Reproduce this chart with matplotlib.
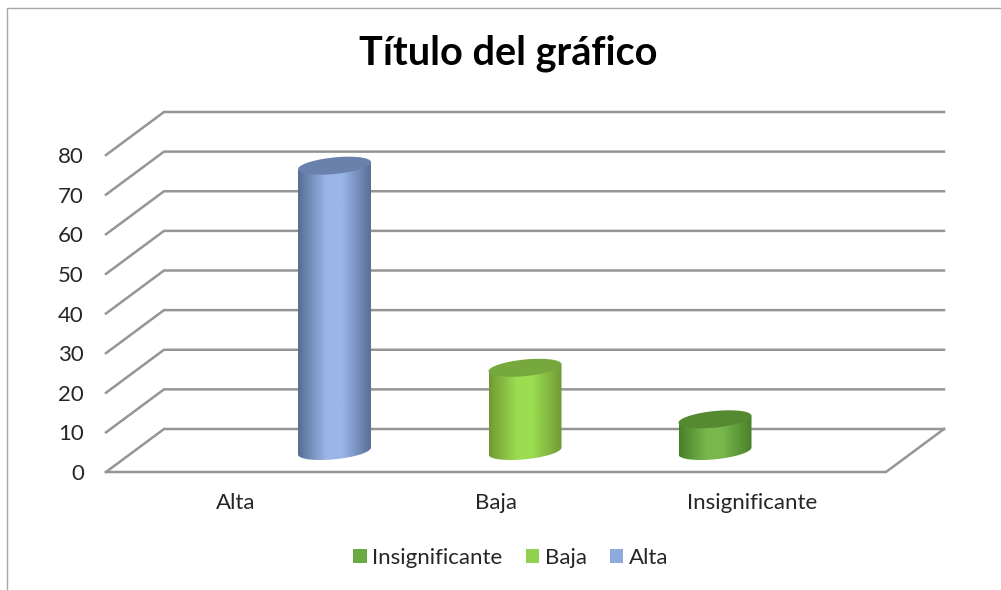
#!/usr/bin/env python3
"""Excel style 3D cylinder chart drawn on a flat matplotlib axes."""
import numpy as np
import matplotlib
matplotlib.use("Agg")
import matplotlib.pyplot as plt
from matplotlib.colors import LinearSegmentedColormap
from matplotlib.lines import Line2D
from matplotlib.patches import Patch, Polygon

categories = ["Alta", "Baja", "Insignificante"]
values = [72, 21, 8]
y_ticks = [0, 10, 20, 30, 40, 50, 60, 70, 80]
legend_labels = ["Insignificante", "Baja", "Alta"]

W, H = 1001, 590
plt.rcParams["font.family"] = ["Lato", "DejaVu Sans"]
TEXT = "#262626"
GRID = "#959595"

# colours per category: edge of body, middle of body, top cap
body_dark = ["#566d95", "#6f9a35", "#4a7f2a"]
body_light = ["#9ab5e8", "#9cdc50", "#78b84c"]
cap_col = ["#6a82ab", "#76a83e", "#558a30"]
legend_col = ["#6aaa42", "#92d050", "#8eaadb"]

fig = plt.figure(figsize=(W / 100, H / 100), dpi=100)
# front plane: x 106..886 px, value 0 at y 472 px, 80 at y 155 px
ax = fig.add_axes([106 / W, 1 - 472 / H, 780 / W, 317 / H])
ax.set_xlim(0, 3)
ax.set_ylim(0, 80)
ax.patch.set_alpha(0)
for s in ax.spines.values():
    s.set_visible(False)

px_x = 3 / 780
px_y = 80 / 317
dx = 58 * px_x   # depth offset of the back wall
dy = 43 * px_y

# walls and floor
for v in y_ticks:
    ax.plot([0, dx, 3 + dx], [v, v + dy, v + dy], color=GRID, lw=1.8,
            clip_on=False, zorder=1, solid_joinstyle="miter")
ax.plot([0, 3, 3 + dx], [0, 0, dy], color=GRID, lw=1.8, clip_on=False,
        zorder=1, solid_joinstyle="miter")

# cylinders
centers_px = [334.5, 525, 715]
half_w = 36.5 * px_x
b = 8.3 * px_y
s = 3.5 * px_y
base = 21 * px_y
t = np.linspace(0, 2 * np.pi, 200)
t_low = np.linspace(np.pi, 2 * np.pi, 100)

for i, v in enumerate(values):
    cx = (centers_px[i] - 106) * px_x
    # lower half of base ellipse, then straight up the right side and back
    xs = cx + half_w * np.cos(t_low)
    ys = base + b * np.sin(t_low) + s * np.cos(t_low)
    top_y = base + v
    outline = np.column_stack([
        np.r_[xs, cx + half_w, cx - half_w],
        np.r_[ys, top_y + s, top_y - s],
    ])
    body = Polygon(outline, closed=True, transform=ax.transData, fc="none", ec="none")
    ax.add_patch(body)
    cmap = LinearSegmentedColormap.from_list(
        "c", [(0, body_dark[i]), (0.38, body_light[i]), (0.6, body_light[i]), (1, body_dark[i])])
    grad = np.linspace(0, 1, 128).reshape(1, -1)
    im = ax.imshow(grad, cmap=cmap, aspect="auto", zorder=3,
                   extent=[cx - half_w, cx + half_w, 0, top_y + 10], interpolation="bilinear")
    im.set_clip_path(body)
    ax.add_patch(Polygon(
        np.column_stack([cx + half_w * np.cos(t),
                         top_y + b * np.sin(t) + s * np.cos(t)]),
        closed=True, fc=cap_col[i], ec="none", zorder=4, clip_on=False))

ax.set_xlim(0, 3)
ax.set_ylim(0, 80)

ax.set_xticks([0.5, 1.5, 2.485], categories)
ax.set_yticks(y_ticks)
ax.tick_params(axis="both", length=0, labelsize=16, labelcolor=TEXT)
ax.tick_params(axis="x", pad=15)
ax.tick_params(axis="y", pad=16)

fig.text(508 / W, 1 - 53 / H, "Título del gráfico", ha="center", va="center",
         fontsize=28.5, fontweight="bold", color="#000000")

handles = [Patch(fc=c, ec="none") for c in legend_col]
fig.legend(handles, legend_labels, ncol=3, frameon=False, fontsize=16,
           loc="center", bbox_to_anchor=(511 / W, 1 - 558 / H),
           labelcolor=TEXT, handlelength=0.6, handleheight=0.6,
           handletextpad=0.25, columnspacing=1.05)

# chart frame, cropped at right and bottom
fig.add_artist(Line2D([7 / W, 7 / W, 1], [0, 1 - 8 / H, 1 - 8 / H],
                      transform=fig.transFigure, color="#a6a6a6", lw=1))

fig.savefig("out.png", dpi=100)
plt.close()
